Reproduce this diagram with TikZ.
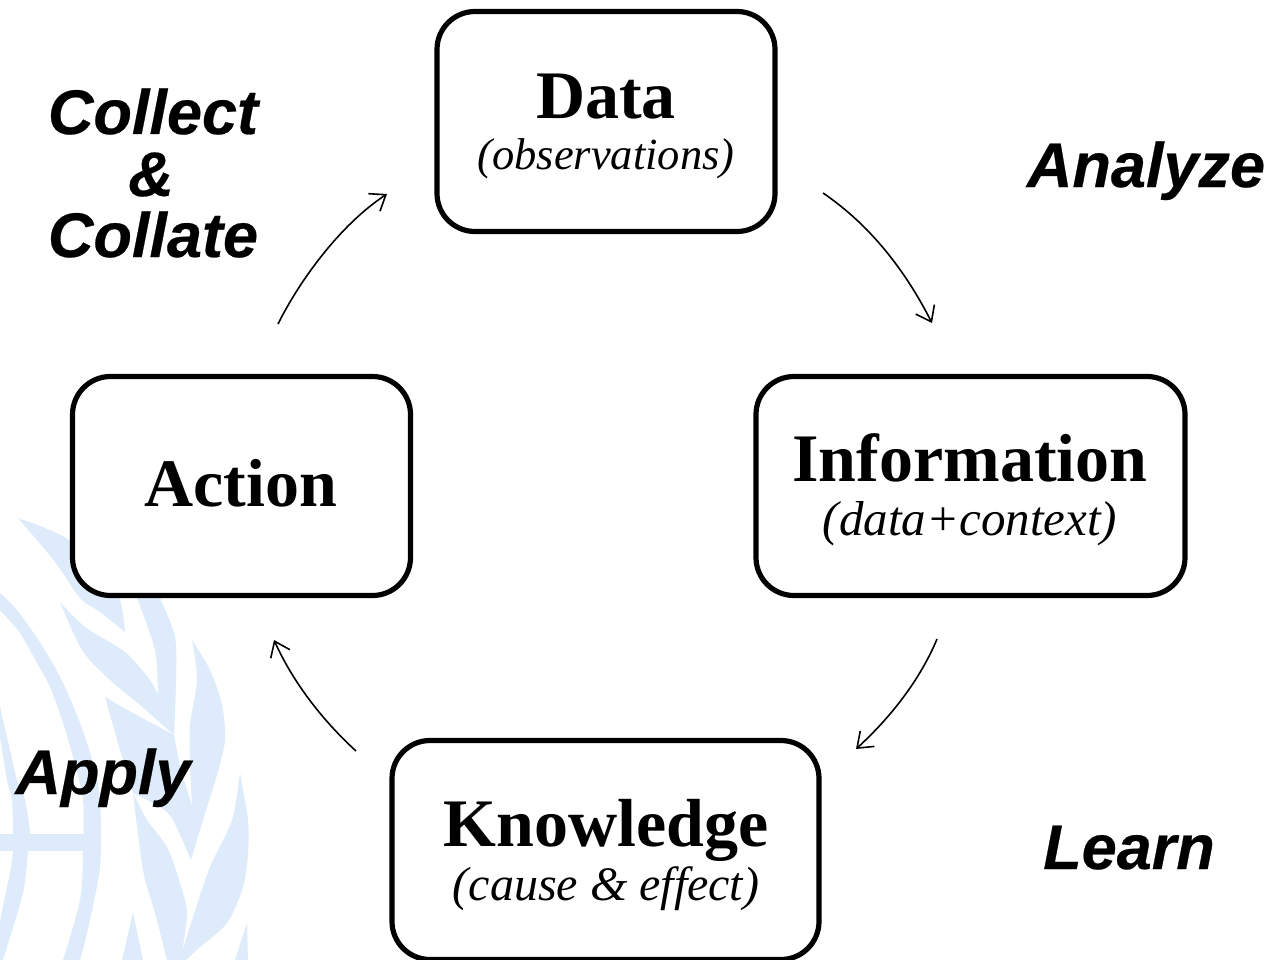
\documentclass[tikz,border=0pt]{standalone}
\usepackage{fontspec}
\usetikzlibrary{arrows.meta}
\setmainfont{Liberation Serif}
\newfontfamily\actfont[BoldItalicFeatures={FakeBold=0.4}]{Liberation Sans}
\definecolor{unblue}{RGB}{221,235,251}
\tikzset{
  cyclebox/.style={draw=black,fill=white,line width=5.2pt,rounded corners=38pt,inner sep=0pt},
  cyclearrow/.style={line width=1.6pt,-{Straight Barb[length=14pt,width=21pt,line width=1.6pt]}},
  wreath/.style={fill=unblue,draw=none},
  boxtitle/.style={font=\fontsize{68}{68}\selectfont\bfseries,inner sep=0pt,anchor=base},
  boxsub/.style={inner sep=0pt,anchor=base},
  actlabel/.style={font=\fontsize{63}{63}\selectfont\actfont\bfseries\itshape,inner sep=0pt,anchor=base}
}
\newcommand{\subfont}[1]{\fontsize{#1}{#1}\selectfont\itshape}
\begin{document}
\begin{tikzpicture}[x=1pt,y=-1pt]
\useasboundingbox (0,0) rectangle (1273,960);
% watermark
\fill[wreath] plot[smooth] coordinates {(18,518) (45,528) (72,542) (105,575) (120,600) (125,632)}
  -- plot[smooth] coordinates {(125,632) (100,612) (80,598) (55,562) (18,518)} -- cycle;
\fill[wreath] plot[smooth] coordinates {(60,602) (85,627) (125,652) (150,680) (158,695)}
  -- plot[smooth] coordinates {(158,695) (155,650) (137,598)} -- (160,598)
  -- plot[smooth] coordinates {(160,598) (175,637) (176,680) (174,735)}
  -- plot[smooth] coordinates {(174,735) (140,705) (110,680) (82,650) (60,602)} -- cycle;
\fill[wreath] plot[smooth] coordinates {(105,697) (133,713) (174,735)}
  -- plot[smooth] coordinates {(174,735) (180,765) (192,806)}
  -- plot[smooth] coordinates {(192,806) (190,763) (190,725) (197,680) (192,640)}
  -- plot[smooth] coordinates {(192,640) (210,670) (222,705) (225,740) (217,775) (203,820) (191,860)}
  -- plot[smooth] coordinates {(191,860) (173,820) (160,807) (133,793)}
  -- plot[smooth] coordinates {(133,793) (120,750) (105,697)} -- cycle;
\fill[wreath] plot[smooth] coordinates {(133,793) (147,820) (167,847) (180,883) (187,913) (182,952)}
  -- plot[smooth] coordinates {(182,952) (193,917) (210,867) (232,820) (240,773)}
  -- plot[smooth] coordinates {(240,773) (248,820) (248,853) (243,887) (227,923) (200,947) (186,960)}
  -- (167,960)
  -- plot[smooth] coordinates {(167,960) (155,913) (143,870) (133,793)} -- cycle;
\fill[wreath] (133,912) -- (122,960) -- (143,960) -- cycle;
\fill[wreath] (247,923) -- (248,960) -- (235,960) -- cycle;
\fill[wreath] plot[smooth] coordinates {(0,593) (17,610) (43,647) (63,683) (80,723) (93,763) (100,800) (100,867) (87,933) (80,960)}
  -- plot[smooth] coordinates {(63,960) (80,900) (83,850) (83,800) (73,757) (63,723) (50,687) (37,663) (20,633) (0,610)} -- cycle;
\fill[wreath] plot[smooth] coordinates {(0,707) (10,750) (17,780) (25,800) (30,833) (28,852) (23,893) (7,947) (3,960)}
  -- plot[smooth] coordinates {(0,960) (0,923) (10,873) (13,850) (13,832) (12,800) (7,780) (0,737)} -- cycle;
\fill[wreath] (0,834) rectangle (85,851);
% boxes
\node[cyclebox,minimum width=338pt,minimum height=220pt] (data) at (606,121.5) {};
\node[cyclebox,minimum width=429pt,minimum height=219pt] (info) at (970.5,486) {};
\node[cyclebox,minimum width=338pt,minimum height=219pt] (action) at (241.5,486) {};
\node[cyclebox,minimum width=427pt,minimum height=219pt] (know) at (605.5,850) {};
% box texts
\node[boxtitle] (t1) at (606,119) {Data};
\node[boxsub,font=\subfont{44.5}] (s1) at (606,170) {(observations)};
\node[boxtitle] (t2) at (970,481) {Information};
\node[boxsub,font=\subfont{49}] (s2) at (970,535) {(data+context)};
\node[boxtitle] (t3) at (241,506) {Action};
\node[boxtitle] (t4) at (606,846) {Knowledge};
\node[boxsub,font=\subfont{48}] (s4) at (606,900) {(cause \& effect)};
% action labels
\node[actlabel] (collect) at (153,134) {Collect};
\node[actlabel] (amp) at (151,196) {\&};
\node[actlabel] (collate) at (153,257) {Collate};
\node[actlabel] (analyze) at (1146,187) {Analyze};
\node[actlabel] (apply) at (103,794) {Apply};
\node[actlabel] (learn) at (1129,869) {Learn};
% arrow ends
\coordinate (a1s) at (823,193); \coordinate (a1e) at (932,323);
\coordinate (a2s) at (937,639); \coordinate (a2e) at (856,749);
\coordinate (a3s) at (356,751); \coordinate (a3e) at (274,640);
\coordinate (a4s) at (278,324); \coordinate (a4e) at (387,194);
\draw[cyclearrow] (a1s) .. controls (870,225) and (905,270) .. (a1e);
\draw[cyclearrow] (a2s) .. controls (920,680) and (890,718) .. (a2e);
\draw[cyclearrow] (a3s) .. controls (320,718) and (292,680) .. (a3e);
\draw[cyclearrow] (a4s) .. controls (300,280) and (340,225) .. (a4e);
\end{tikzpicture}
\end{document}
